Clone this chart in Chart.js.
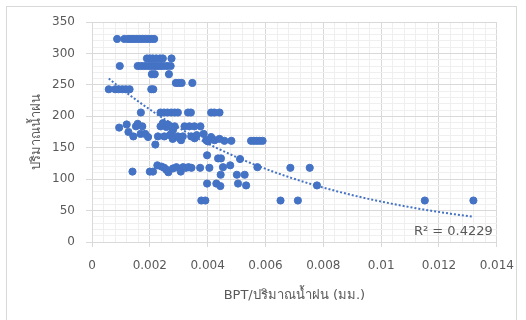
<!DOCTYPE html>
<html><head><meta charset="utf-8">
<script src="https://cdn.jsdelivr.net/npm/chart.js@4"></script>
<style>html,body{margin:0;padding:0;background:#fff}#wrap{width:526px;height:320px;position:relative}</style>
</head><body><div id="wrap"><canvas id="c" width="526" height="320"></canvas></div>
<script>
// BPT / rainfall (x) and rainfall mm (y)
const bptValues = [
 0.00087,0.00112,0.00125,0.00135,0.00145,0.00155,0.00165,0.00175,0.00185,0.00195,0.00205,0.00215,
 0.0019,0.002,0.0021,0.00222,0.00235,0.00245,0.00275,
 0.00096,0.00158,0.00168,0.00178,0.00188,0.00198,0.00208,0.00218,0.00228,0.00238,0.00248,0.0026,0.00272,
 0.00207,0.00217,0.00266,
 0.0029,0.003,0.0031,0.00347,
 0.00058,0.0008,0.00092,0.00105,0.00117,0.0013,0.00205,0.00212,
 0.00169,0.00237,0.00249,0.00261,0.00274,0.00286,0.00297,0.00332,0.00342,0.00412,0.00423,0.00441,
 0.00094,0.0012,0.00126,0.00143,0.00152,0.00158,0.00168,0.00174,0.00184,0.00194,0.00219,0.00228,0.00237,0.00245,0.0025,0.00257,0.00262,0.00269,0.00274,0.0028,0.00279,0.00286,0.00297,0.00303,0.00308,0.00314,0.0032,0.00337,0.00343,0.00354,0.00355,0.00362,0.00375,0.00386,0.00395,0.00401,0.00412,0.00424,0.00441,0.00458,0.00482,0.0055,0.0056,0.0057,0.0058,0.0059,
 0.00398,0.00436,0.00446,0.00512,0.00572,0.00686,0.00753,0.00778,0.00445,0.00501,0.00528,0.00453,0.00478,0.00406,0.00374,
 0.0014,0.002,0.00211,0.00226,0.0024,0.0025,0.00257,0.00264,0.0028,0.00292,0.00307,0.00315,0.00325,0.00334,0.00344,
 0.00398,0.0043,0.00444,0.00505,0.00533,0.00378,0.00392,0.00652,0.00712,0.01151,0.01319
];
const rainValues = [
 323,323,323,323,323,323,323,323,323,323,323,323,
 292,292,292,292,292,292,292,
 280,280,280,280,280,280,280,280,280,280,280,280,280,
 267,267,267,
 253,253,253,253,
 243,243,243,243,243,243,243,243,
 206,206,206,206,206,206,206,206,206,206,206,206,
 182,187,175,168,184,188,172,184,172,167,155,168,184,189,168,183,187,170,172,178,164,184,168,165,162,168,184,184,168,184,165,170,184,172,162,160,167,162,164,161,161,161,161,161,161,161,
 138,133,133,132,119,118,118,90,107,107,107,119,122,118,118,
 112,112,112,122,120,118,115,111,117,119,112,119,118,119,118,
 93,93,89,93,90,66,66,66,66,66,66
];
const xTickLabels = ['0','0.002','0.004','0.006','0.008','0.01','0.012','0.014'];
const yTickLabels = ['0','50','100','150','200','250','300','350'];
const rSquaredText = 'R² = 0.4229';
const xTitle = 'BPT/ปริมาณน้ำฝน (มม.)';
const yTitle = 'ปริมาณน้ำฝน';

const points = bptValues.map((x,i)=>({x:x,y:rainValues[i]}));

// exponential least-squares trendline (as in the spreadsheet), from the data
const n = points.length;
let sx=0,sy=0,sxx=0,sxy=0;
points.forEach(p=>{const ly=Math.log(p.y);sx+=p.x;sy+=ly;sxx+=p.x*p.x;sxy+=p.x*ly;});
const b = (n*sxy-sx*sy)/(n*sxx-sx*sx);
const lnA = (sy-b*sx)/n;
const minX = Math.min(...bptValues), maxX = Math.max(...bptValues);
const trend = [];
for(let i=0;i<=80;i++){const x=minX+(maxX-minX)*i/80;trend.push({x:x,y:Math.exp(lnA+b*x)});}

const FONT = "'DejaVu Sans', 'Noto Sans', sans-serif";
const gray = '#595959';

const frame = {
  id:'frame',
  beforeDraw(chart){
    const ctx=chart.ctx;ctx.save();ctx.strokeStyle='#d9d9d9';ctx.lineWidth=1;
    ctx.strokeRect(6.5,6.5,510,330);ctx.restore();
  },
  afterDatasetsDraw(chart){
    const ctx=chart.ctx, ca=chart.chartArea;ctx.save();
    ctx.font="13px "+FONT;ctx.fillStyle=gray;ctx.textAlign='right';ctx.textBaseline='middle';
    ctx.fillText(rSquaredText, ca.right-4, ca.bottom-10);ctx.restore();
  }
};

new Chart(document.getElementById('c'),{
  type:'scatter',
  data:{datasets:[
    {type:'line',data:trend,borderColor:'#4472C4',borderWidth:2,borderDash:[2,2],pointRadius:0,fill:false,tension:0,order:0},
    {data:points,backgroundColor:'#4472C4',borderColor:'#4472C4',pointRadius:3.6,pointHoverRadius:3.6,order:1}
  ]},
  options:{
    responsive:false,animation:false,
    layout:{padding:{top:22,right:28,left:0,bottom:0}},
    plugins:{legend:{display:false},tooltip:{enabled:false}},
    scales:{
      x:{type:'linear',min:0,max:0.014,
        afterFit:s=>{s.height=78;},
        afterBuildTicks:s=>{const t=[];for(let i=0;i<=35;i++)t.push({value:i*0.0004});s.ticks=t;},
        ticks:{autoSkip:false,maxRotation:0,padding:12,color:gray,font:{family:FONT,size:12},
          callback:(v,i)=>(i%5===0?xTickLabels[i/5]:'')},
        grid:{color:c=>(c.index%5===0?'#d9d9d9':'#efefef'),tickColor:c=>(c.index%5===0?'#d9d9d9':'rgba(0,0,0,0)'),tickLength:5,lineWidth:1},
        border:{color:'#d9d9d9'},
        title:{display:true,text:xTitle,color:gray,font:{family:FONT,size:13},padding:{top:0,bottom:17}}
      },
      y:{type:'linear',min:0,max:350,
        afterFit:s=>{s.width=92;},
        afterBuildTicks:s=>{const t=[];for(let i=0;i<=35;i++)t.push({value:i*10});s.ticks=t;},
        ticks:{autoSkip:false,padding:11,color:gray,font:{family:FONT,size:12},
          callback:(v,i)=>(i%5===0?yTickLabels[i/5]:'')},
        grid:{color:c=>(c.index%5===0?'#d9d9d9':'#efefef'),tickColor:c=>(c.index%5===0?'#d9d9d9':'rgba(0,0,0,0)'),tickLength:6,lineWidth:1},
        border:{color:'#d9d9d9'},
        title:{display:true,text:yTitle,color:gray,font:{family:FONT,size:13},padding:{top:29,bottom:0}}
      }
    }
  },
  plugins:[frame]
});
</script></body></html>
